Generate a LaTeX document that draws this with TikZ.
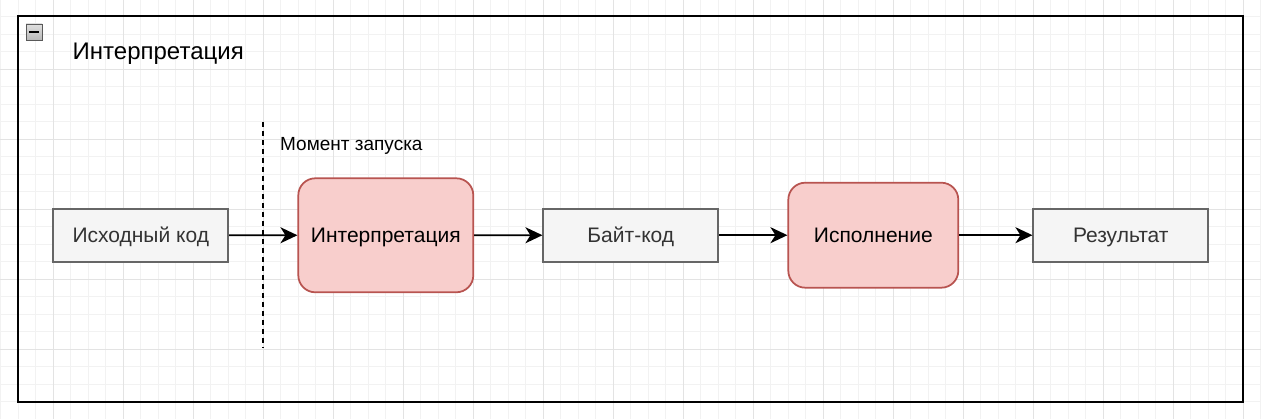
\documentclass[tikz,border=0pt]{standalone}
\usepackage{fontspec}
\setmainfont{Liberation Sans}
\usetikzlibrary{arrows.meta}
\definecolor{gridminor}{HTML}{F2F2F2}
\definecolor{gridmajor}{HTML}{E3E3E3}
\definecolor{grayfill}{HTML}{F5F5F5}
\definecolor{graystroke}{HTML}{666666}
\definecolor{graytext}{HTML}{333333}
\definecolor{redfill}{HTML}{F8CECC}
\definecolor{redstroke}{HTML}{B85450}
\tikzset{
  graybox/.style={draw=graystroke, fill=grayfill, line width=1.75pt, text=graytext,
    minimum width=175pt, minimum height=53pt, inner sep=0pt,
    text height=15pt, text depth=0pt,
    font=\fontsize{21}{25}\selectfont},
  redbox/.style={draw=redstroke, fill=redfill, line width=1.75pt, text=black,
    rounded corners=17pt, inner sep=0pt, text height=15pt, text depth=0pt,
    font=\fontsize{21}{25}\selectfont},
  flow/.style={line width=1.75pt, -{Stealth[length=17pt,width=16pt,inset=5pt]}},
  gridlines/.pic={
    \foreach \i in {0,...,72} {
      \pgfmathsetmacro\xx{0.8+17.5*\i}
      \draw[gridminor, line width=1pt] (\xx,0) -- (\xx,419);
    }
    \foreach \k in {-1,...,23} {
      \pgfmathsetmacro\yy{16.7+17.5*\k}
      \draw[gridminor, line width=1pt] (0,\yy) -- (1261,\yy);
    }
    \foreach \i in {0,...,17} {
      \pgfmathsetmacro\xx{53.3+70*\i}
      \draw[gridmajor, line width=1pt] (\xx,0) -- (\xx,419);
    }
    \foreach \k in {0,...,6} {
      \pgfmathsetmacro\yy{-0.8+70*\k}
      \draw[gridmajor, line width=1pt] (0,\yy) -- (1261,\yy);
    }
  },
}
\begin{document}
\begin{tikzpicture}[x=1pt,y=-1pt]
\useasboundingbox (0,0) rectangle (1261,419);
\fill[white] (0,0) rectangle (1261,419);
% grid
\pic at (0,0) {gridlines};
% container frame
\draw[black, line width=2pt] (18.3,16.2) rectangle (1243.3,401.7);
% collapse icon
\shade[top color=gray!25, bottom color=gray!55, draw=gray!70!black, line width=0.8pt] (26,24) rectangle (42,40);
\draw[black, line width=2.5pt] (29,32) -- (39,32);
% title
\node[anchor=base west, inner sep=0pt, font=\fontsize{24}{28}\selectfont] (title) at (72.5,59.3) {Интерпретация};
% dashed marker
\coordinate (dtop) at (263.3,122);
\coordinate (dbot) at (263.3,348);
\draw[black, line width=2pt, dash pattern=on 5pt off 4pt] (dtop) -- (dbot);
\node[anchor=base west, inner sep=0pt, font=\fontsize{19}{23}\selectfont] (moment) at (280,151) {Момент запуска};
% nodes
\node[graybox] (src) at (140.8,235.2) {Исходный код};
\node[redbox, minimum width=175pt, minimum height=114pt] (interp) at (385.8,235.3) {Интерпретация};
\node[graybox] (byte) at (630.8,235.2) {Байт-код};
\node[redbox, minimum width=170pt, minimum height=105pt] (exec) at (873.3,235.2) {Исполнение};
\node[graybox] (res) at (1120.8,235.2) {Результат};
% connectors
\draw[flow] (src) -- (interp);
\draw[flow] (interp) -- (byte);
\draw[flow] (byte) -- (exec);
\draw[flow] (exec) -- (res);
\end{tikzpicture}
\end{document}
